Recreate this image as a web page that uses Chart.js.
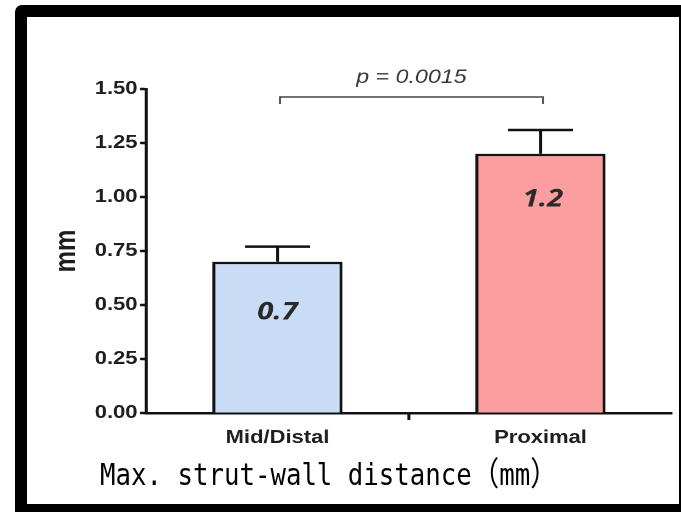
<!DOCTYPE html>
<html>
<head>
<meta charset="utf-8">
<script src="https://cdn.jsdelivr.net/npm/chart.js@4/dist/chart.umd.min.js"></script>
<style>
  html, body { margin: 0; padding: 0; background: #fff; }
  body { position: relative; width: 681px; height: 512px; overflow: hidden; }
  #plot { position: absolute; left: 0; top: 0; transform-origin: 0 0; transform: scaleX(1.22043); }
  #frame {
    position: absolute; left: 15px; top: 5px; width: 666px; height: 507px;
    box-sizing: border-box; border-style: solid; border-color: #000;
    border-width: 12px 2px 8px 12px; border-top-left-radius: 7px;
    pointer-events: none;
  }
  #caption {
    position: absolute; left: 100px; top: 456px; white-space: nowrap;
    font-family: "DejaVu Sans Mono", monospace;
    font-size: 31px; line-height: 31px; color: #000;
    transform-origin: 0 0; transform: scaleX(0.83);
  }
  #caption .fw { font-family: "Noto Sans CJK JP", "Noto Sans CJK SC", sans-serif; font-size: 33px; }
</style>
</head>
<body>
<canvas id="plot" width="558" height="512"></canvas>
<div id="frame"></div>
<div id="caption">Max. strut-wall distance<span class="fw">（</span>mm<span class="fw">）</span></div>
<script>
// Group names, mean values and standard deviations
const categories = ['Mid/Distal', 'Proximal'];
const meanValues = [0.7, 1.2];
const sdValues = [0.07, 0.11];
const yAxisTitle = 'mm';
const pValueText = 'p = 0.0015';
const yMin = 0, yMax = 1.5, yStep = 0.25;

const ink = '#111';

// Upward error bars (mean + SD) with a cap half the bar width
const errorBarPlugin = {
  id: 'errorBars',
  afterDatasetsDraw(chart) {
    const { ctx, scales: { y } } = chart;
    const meta = chart.getDatasetMeta(0);
    ctx.save();
    ctx.strokeStyle = ink;
    ctx.lineWidth = 2.5;
    meta.data.forEach((bar, i) => {
      const top = y.getPixelForValue(meanValues[i] + sdValues[i]);
      const half = bar.width / 4;
      ctx.beginPath();
      ctx.moveTo(bar.x, bar.y);
      ctx.lineTo(bar.x, top);
      ctx.moveTo(bar.x - half, top);
      ctx.lineTo(bar.x + half, top);
      ctx.stroke();
    });
    ctx.restore();
  }
};

// Mean value printed inside each bar, just below its top edge
const valueLabelPlugin = {
  id: 'valueLabels',
  afterDatasetsDraw(chart) {
    const { ctx } = chart;
    const meta = chart.getDatasetMeta(0);
    ctx.save();
    ctx.fillStyle = '#2a2a2a';
    ctx.font = 'italic bold 24px "Open Sans", "Liberation Sans", sans-serif';
    ctx.textAlign = 'center';
    ctx.textBaseline = 'middle';
    meta.data.forEach((bar, i) => {
      const drop = i === 0 ? 51 : 46;
      ctx.fillText(String(meanValues[i]), bar.x + (i === 1 ? 2 : 0), bar.y + drop);
    });
    ctx.restore();
  }
};

// Significance bracket joining the two groups, with the p value above
const bracketPlugin = {
  id: 'bracket',
  afterDatasetsDraw(chart) {
    const { ctx, scales: { y } } = chart;
    const meta = chart.getDatasetMeta(0);
    const a = meta.data[0].x + 2, b = meta.data[1].x + 2;
    const yy = y.getPixelForValue(1.463);
    ctx.save();
    ctx.strokeStyle = '#444';
    ctx.lineWidth = 1.5;
    ctx.beginPath();
    ctx.moveTo(a, yy + 7);
    ctx.lineTo(a, yy);
    ctx.lineTo(b, yy);
    ctx.lineTo(b, yy + 7);
    ctx.stroke();
    ctx.fillStyle = '#3a3a3a';
    ctx.font = 'italic 19px "Liberation Sans", Arial, sans-serif';
    ctx.textAlign = 'center';
    ctx.textBaseline = 'alphabetic';
    ctx.fillText(pValueText, (a + b) / 2, yy - 14);
    ctx.restore();
  }
};

new Chart(document.getElementById('plot'), {
  type: 'bar',
  data: {
    labels: categories,
    datasets: [{
      data: meanValues,
      backgroundColor: ['#c8dcf6', '#fc9d9f'],
      borderColor: ink,
      borderWidth: 2.5,
      borderSkipped: 'bottom',
      categoryPercentage: 1,
      barPercentage: 0.495
    }]
  },
  options: {
    responsive: false,
    maintainAspectRatio: false,
    devicePixelRatio: 2,
    animation: false,
    layout: { padding: { top: 89, left: 0, right: 7.4, bottom: 0 } },
    plugins: { legend: { display: false }, tooltip: { enabled: false } },
    scales: {
      x: {
        afterFit(scale) { scale.height = 99; },
        border: { display: true, color: ink, width: 2.5 },
        grid: {
          display: true,
          offset: true,
          drawOnChartArea: false,
          drawTicks: true,
          tickLength: 7,
          tickWidth: 2.5,
          tickColor: (c) => (c.index === 1 ? ink : 'rgba(0,0,0,0)')
        },
        ticks: {
          padding: 7,
          color: '#1e1e1e',
          font: { family: '"Liberation Sans", Arial, sans-serif', size: 18, weight: 'bold' }
        }
      },
      y: {
        min: yMin,
        max: yMax,
        afterFit(scale) { scale.width = 119.6; },
        border: { display: true, color: ink, width: 2.5 },
        grid: {
          display: true,
          drawOnChartArea: false,
          drawTicks: true,
          tickLength: 5,
          tickWidth: 2.5,
          tickColor: ink
        },
        ticks: {
          stepSize: yStep,
          padding: 2,
          color: '#1e1e1e',
          font: { family: '"Liberation Sans", Arial, sans-serif', size: 18, weight: 'bold' },
          callback: (v) => Number(v).toFixed(2)
        },
        title: {
          display: true,
          text: yAxisTitle,
          color: '#1e1e1e',
          padding: { top: 40.6, bottom: 0 },
          font: { family: '"Liberation Sans", Arial, sans-serif', size: 24, weight: 'bold' }
        }
      }
    }
  },
  plugins: [errorBarPlugin, valueLabelPlugin, bracketPlugin]
});
</script>
</body>
</html>
